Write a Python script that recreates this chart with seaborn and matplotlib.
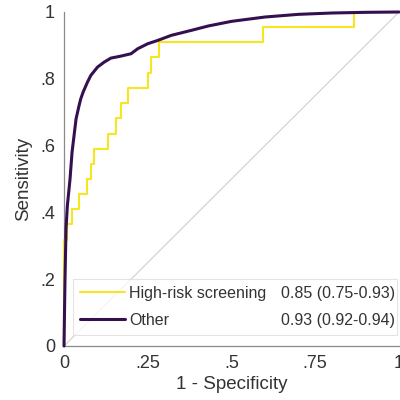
import matplotlib
matplotlib.use("Agg")
import matplotlib.pyplot as plt
import seaborn as sns
import pandas as pd

# ---- data ----
group_names = ["High-risk screening", "Other"]
auc_labels = ["0.85 (0.75-0.93)", "0.93 (0.92-0.94)"]

fpr_high = [0.0, 0.0, 0.009, 0.025, 0.045, 0.068, 0.08, 0.09, 0.13, 0.155,
            0.17, 0.19, 0.25, 0.26, 0.285, 0.595, 0.867, 1.0]
tpr_high = [0.0, 0.318, 0.364, 0.409, 0.455, 0.5, 0.545, 0.591, 0.636, 0.682,
            0.727, 0.773, 0.818, 0.864, 0.909, 0.955, 1.0, 1.0]

fpr_other = [0.0, 0.003, 0.006, 0.01, 0.018, 0.024, 0.03, 0.036, 0.045, 0.05,
             0.057, 0.07, 0.08, 0.1, 0.12, 0.14, 0.17, 0.2, 0.22, 0.25,
             0.28, 0.32, 0.38, 0.43, 0.5, 0.6, 0.7, 0.8, 0.9, 1.0]
tpr_other = [0.0, 0.2, 0.35, 0.42, 0.5, 0.58, 0.63, 0.68, 0.72, 0.74,
             0.76, 0.79, 0.81, 0.835, 0.85, 0.862, 0.868, 0.875, 0.89, 0.905,
             0.915, 0.93, 0.945, 0.958, 0.972, 0.985, 0.993, 0.997, 0.999, 1.0]

ref_x = [0.0, 1.0]
ref_y = [0.0, 1.0]

x_ticks = [0, 0.25, 0.5, 0.75, 1]
x_ticklabels = ["0", ".25", ".5", ".75", "1"]
y_ticks = [0, 0.2, 0.4, 0.6, 0.8, 1]
y_ticklabels = ["0", ".2", ".4", ".6", ".8", "1"]

colors = ["#f6e620", "#35104f"]
text_color = "#333333"
axis_color = "#8a8a8a"

# ---- figure ----
sns.set_style("white")
plt.rcParams["font.family"] = ["Liberation Sans", "DejaVu Sans"]

fig = plt.figure(figsize=(4, 4), dpi=100)
ax = fig.add_axes([0.16, 0.135, 0.8375, 0.835])

df_ref = pd.DataFrame({"x": ref_x, "y": ref_y})
sns.lineplot(data=df_ref, x="x", y="y", ax=ax, color="#d4d4d4", lw=0.9,
             estimator=None, sort=False, legend=False)

df_high = pd.DataFrame({"x": fpr_high, "y": tpr_high})
sns.lineplot(data=df_high, x="x", y="y", ax=ax, color=colors[0], lw=1.5,
             estimator=None, sort=False, drawstyle="steps-post",
             clip_on=False, legend=False, zorder=3)

df_other = pd.DataFrame({"x": fpr_other, "y": tpr_other})
sns.lineplot(data=df_other, x="x", y="y", ax=ax, color=colors[1], lw=2.2,
             estimator=None, sort=False, clip_on=False, legend=False, zorder=4)

ax.set_xlim(0, 1)
ax.set_ylim(0, 1)
ax.set_xticks(x_ticks)
ax.set_xticklabels(x_ticklabels)
ax.set_yticks(y_ticks)
ax.set_yticklabels(y_ticklabels)
ax.tick_params(axis="both", direction="out", length=4.5, width=0.8,
               color=axis_color, labelsize=13, labelcolor=text_color, pad=2)

for side in ["top", "right"]:
    ax.spines[side].set_visible(False)
for side in ["left", "bottom"]:
    ax.spines[side].set_color(axis_color)
    ax.spines[side].set_linewidth(0.9)

ax.set_xlabel("1 - Specificity", fontsize=13.5, color=text_color, labelpad=3)
ax.set_ylabel("Sensitivity", fontsize=13.5, color=text_color, labelpad=6)

handles = [plt.Line2D([], [], color=colors[0], lw=1.5),
           plt.Line2D([], [], color=colors[1], lw=2.2)]
leg = ax.legend(handles, group_names, loc="lower left",
                bbox_to_anchor=(0.027, 0.033, 0.967, 0.19), mode="expand",
                borderaxespad=0, frameon=True, fancybox=False,
                edgecolor="#dcdcdc", fontsize=11.5, labelcolor=text_color,
                handlelength=2.8, handletextpad=0.25, labelspacing=0.75,
                borderpad=0.45)
leg.get_frame().set_linewidth(0.8)

for txt, auc in zip(leg.get_texts(), auc_labels):
    ax.annotate(auc, xy=(0.988, 0.5), xycoords=(ax.transAxes, txt),
                ha="right", va="center", fontsize=11.5, color=text_color,
                zorder=6)

fig.savefig("out.png", dpi=100)
